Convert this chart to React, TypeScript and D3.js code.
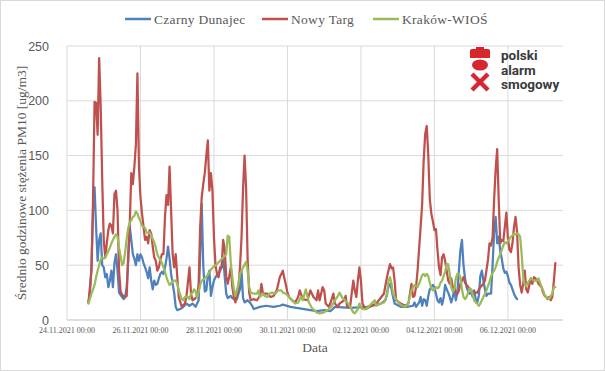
import React from 'react';
import * as d3 from 'd3';

// hours since 24.11.2021 00:00, PM10 [ug/m3]
const czarnyDunajec: [number, number][] = [
  [14,16],[15,24],[16,50],[17,100],[18,121],[19,85],[20,54],[21,73],[22,79],[23,50],[24,48],[25,39],[26,42],[27,30],[28,36],[29,45],[30,30],[31,52],[32,60],[33,45],[34,25],[36,21],[37,19],[38,21],[39,30],[40,54],[41,85],[42,73],[43,60],[44,56],[45,50],[46,60],[47,54],[48,60],[49,57],[50,52],[51,48],[52,44],[53,38],[54,48],[55,36],[56,28],[57,36],[58,32],[59,33],[60,38],[61,42],[62,44],[63,42],[64,48],[65,56],[66,67],[67,56],[68,42],[69,33],[70,25],[71,12],[72,9],[74,10],[76,12],[78,15],[80,13],[82,15],[84,12],[86,18],[87,60],[88,106],[89,50],[90,26],[91,27],[92,40],[93,45],[94,22],[95,30],[96,36],[97,39],[98,41],[99,42],[100,45],[101,48],[102,57],[103,40],[104,24],[105,20],[106,21],[107,22],[108,20],[109,19],[110,21],[111,19],[112,24],[113,28],[114,45],[115,20],[116,16],[118,18],[120,15],[122,10],[126,12],[130,13],[135,12],[139,13],[141,14],[146,12],[150,11],[155,10],[159,9],[163,8],[168,9],[172,8],[175,12],[185,11],[196,12],[205,15],[208,18],[209,24],[210,31],[211,33],[212,28],[213,21],[214,15],[218,12],[222,12],[226,13],[227,16],[228,12],[230,16],[231,21],[232,13],[233,19],[234,18],[235,13],[236,22],[237,28],[238,30],[239,32],[240,30],[241,24],[242,18],[243,16],[244,20],[245,14],[246,20],[247,32],[248,28],[249,25],[250,21],[251,16],[252,21],[253,28],[254,18],[255,25],[256,45],[257,64],[258,73],[259,50],[260,38],[261,30],[262,26],[263,24],[264,25],[265,21],[266,27],[267,19],[268,16],[269,22],[270,40],[271,45],[272,36],[273,28],[274,22],[275,24],[277,24],[278,50],[279,80],[280,94],[281,70],[282,76],[283,63],[284,56],[285,47],[286,43],[287,44],[288,40],[289,34],[290,32],[291,28],[292,24],[293,21],[294,19],
];

const nowyTarg: [number, number][] = [
  [14,16],[16,45],[17,109],[18,199],[19,198],[20,169],[21,239],[22,195],[23,128],[24,73],[25,57],[26,70],[27,82],[28,88],[29,86],[30,79],[31,115],[32,118],[33,100],[34,45],[35,26],[36,23],[38,21],[39,22],[40,60],[41,88],[42,134],[43,124],[44,140],[45,160],[46,225],[47,140],[48,112],[49,97],[50,85],[51,73],[52,76],[53,70],[54,82],[55,79],[56,67],[57,57],[58,54],[59,45],[60,48],[61,55],[62,60],[63,60],[64,94],[65,114],[66,105],[67,140],[68,100],[69,60],[70,48],[71,60],[72,40],[73,21],[75,12],[77,15],[78,21],[80,48],[81,24],[82,18],[85,21],[86,33],[87,85],[88,112],[89,124],[90,134],[91,150],[92,164],[93,118],[94,134],[95,118],[96,75],[97,50],[98,42],[99,39],[100,48],[101,48],[102,73],[103,65],[104,40],[105,33],[106,40],[107,48],[108,30],[109,21],[110,16],[111,22],[112,30],[113,48],[114,75],[115,120],[116,150],[117,120],[118,55],[119,25],[120,18],[122,19],[124,18],[126,22],[127,33],[128,24],[131,24],[133,21],[135,22],[137,27],[139,39],[140,42],[141,45],[142,38],[143,32],[144,25],[145,21],[147,18],[149,16],[151,21],[152,27],[154,19],[157,18],[159,27],[161,21],[163,18],[164,27],[165,18],[167,30],[168,27],[169,15],[171,12],[172,15],[174,24],[175,15],[177,12],[178,15],[181,18],[182,22],[183,12],[185,13],[187,36],[188,27],[189,21],[190,36],[191,48],[192,36],[193,15],[195,10],[198,12],[202,15],[207,24],[209,39],[211,51],[212,47],[213,48],[214,36],[215,18],[218,15],[221,13],[223,15],[225,33],[226,21],[227,22],[228,30],[229,45],[230,65],[231,85],[232,106],[233,146],[234,170],[235,177],[236,150],[237,110],[238,97],[239,90],[240,82],[241,83],[242,64],[243,48],[244,41],[245,57],[246,60],[247,54],[248,45],[249,36],[250,33],[251,38],[252,30],[253,30],[254,25],[255,24],[256,27],[257,33],[258,36],[259,39],[260,34],[261,32],[264,27],[266,25],[268,25],[270,30],[272,33],[273,36],[275,55],[276,70],[277,68],[278,75],[279,110],[280,137],[281,156],[282,110],[283,70],[284,73],[285,72],[286,85],[287,98],[288,75],[289,64],[290,62],[291,70],[292,85],[293,94],[294,80],[295,48],[296,32],[297,25],[298,33],[299,45],[300,28],[301,25],[302,32],[303,38],[304,33],[305,39],[306,38],[307,36],[308,33],[310,30],[311,25],[312,22],[313,21],[314,19],[315,21],[316,18],[317,21],[318,35],[319,52],
];

const krakowWios: [number, number][] = [
  [14,15],[16,24],[17,28],[18,32],[19,39],[20,45],[21,50],[22,55],[23,57],[24,56],[25,57],[26,60],[27,63],[28,66],[29,70],[30,73],[31,76],[32,78],[33,76],[34,66],[35,58],[36,50],[37,52],[38,62],[39,74],[40,84],[41,89],[42,91],[43,94],[44,95],[45,99],[46,97],[47,93],[48,90],[49,86],[50,85],[51,84],[52,80],[53,79],[54,80],[55,77],[56,74],[57,71],[58,66],[59,60],[60,57],[61,55],[62,52],[63,48],[64,44],[65,39],[66,35],[67,32],[68,33],[69,36],[70,36],[71,36],[72,33],[73,27],[74,23],[75,19],[76,18],[77,21],[79,21],[80,19],[81,24],[82,25],[83,28],[84,26],[85,20],[86,26],[87,32],[88,36],[90,38],[92,41],[94,46],[96,49],[98,51],[100,54],[102,57],[104,60],[105,77],[106,76],[107,52],[108,39],[109,28],[110,22],[111,27],[112,33],[113,42],[115,48],[117,53],[118,45],[119,30],[120,25],[122,24],[124,24],[125,27],[126,21],[128,24],[129,22],[131,21],[132,24],[134,25],[136,24],[138,27],[140,27],[141,25],[143,24],[145,21],[147,18],[149,15],[151,16],[153,21],[154,18],[156,28],[158,16],[160,11],[163,7],[165,6],[168,7],[171,10],[173,13],[175,18],[177,22],[178,25],[180,20],[183,16],[185,12],[187,7],[188,6],[190,10],[191,15],[193,10],[195,10],[197,12],[199,15],[201,18],[202,13],[205,15],[207,16],[209,22],[210,36],[211,39],[212,33],[213,24],[215,19],[217,15],[219,13],[221,12],[223,15],[224,22],[225,27],[227,32],[229,30],[230,33],[231,37],[232,41],[233,42],[234,40],[235,42],[236,40],[237,34],[238,29],[239,27],[240,28],[241,30],[242,29],[243,30],[244,34],[245,36],[246,40],[247,44],[248,51],[249,51],[250,42],[251,30],[252,26],[253,28],[254,38],[255,42],[256,42],[257,39],[258,28],[259,21],[260,19],[261,21],[262,25],[263,29],[264,28],[265,23],[266,18],[267,16],[268,15],[269,13],[270,15],[271,18],[272,21],[273,24],[274,27],[275,31],[276,35],[277,40],[278,43],[279,45],[280,48],[281,53],[282,57],[283,60],[284,64],[285,68],[286,71],[287,70],[288,72],[289,74],[290,76],[291,77],[292,79],[293,78],[294,79],[295,78],[296,76],[297,60],[298,40],[299,32],[300,31],[301,34],[302,36],[303,38],[305,36],[307,36],[308,38],[309,34],[310,30],[311,27],[312,23],[313,21],[315,19],[316,22],[317,24],[318,30],[319,30],
];

const seriesNames = ['Czarny Dunajec', 'Nowy Targ', 'Kraków-WIOŚ'];
const seriesColors = ['#4F81BD', '#C0504D', '#9BBB59'];
const yTicks = [0, 50, 100, 150, 200, 250];
const xTickDays = [0, 2, 4, 6, 8, 10, 12];
const logoLines = ['polski', 'alarm', 'smogowy'];
const startDate = new Date(Date.UTC(2021, 10, 24, 0, 0));
const endDate = new Date(Date.UTC(2021, 11, 7, 12, 0));

const W = 605, H = 371;
const margin = { top: 46, right: 42, bottom: 51, left: 67 };

const App = () => {
  const innerW = W - margin.left - margin.right;
  const innerH = H - margin.top - margin.bottom;

  const x = d3.scaleUtc().domain([startDate, endDate]).range([0, innerW]);
  const y = d3.scaleLinear().domain([0, 250]).range([innerH, 0]);

  const toDate = (h: number) => d3.utcHour.offset(startDate, h);
  const xTicks = xTickDays.map(d => d3.utcDay.offset(startDate, d));
  const fmt = d3.utcFormat('%d.%m.%Y %H:%M');

  const line = d3.line<[number, number]>()
    .x(d => x(toDate(d[0])))
    .y(d => y(d[1]));

  const allSeries = [czarnyDunajec, nowyTarg, krakowWios];
  const serif = '"Liberation Serif", "DejaVu Serif", serif';
  const legendX = [125, 262, 373];
  const logoRed = '#D8262E';

  return (
    <svg width={W} height={H} style={{ position: 'absolute', left: 0, top: 0, background: '#fff' }}>
      <rect x={0.5} y={0.5} width={W - 1} height={H - 1} fill="#fff" stroke="#d9d9d9" />

      {/* legend */}
      {seriesNames.map((name, i) => (
        <g key={name} transform={`translate(${legendX[i]},19)`}>
          <line x1={0} x2={26} y1={0} y2={0} stroke={seriesColors[i]} strokeWidth={2.5} />
          <text x={29} y={4.5} fontFamily={serif} fontSize={13.5} fill="#595959" letterSpacing={0.3}>{name}</text>
        </g>
      ))}

      <g transform={`translate(${margin.left},${margin.top})`}>
        {yTicks.map(t => (
          <line key={t} x1={0} x2={innerW} y1={y(t)} y2={y(t)} stroke={t === 0 ? '#bfbfbf' : '#d9d9d9'} strokeWidth={1} />
        ))}
        {xTicks.map(t => (
          <line key={t.getTime()} x1={x(t)} x2={x(t)} y1={0} y2={innerH} stroke="#d9d9d9" strokeWidth={1} />
        ))}

        {yTicks.map(t => (
          <text key={t} x={-18} y={y(t) + 4.5} textAnchor="end" fontFamily='"Liberation Sans", Arial, sans-serif' fontSize={12.5} fill="#595959">{t}</text>
        ))}
        {xTicks.map(t => (
          <text key={t.getTime()} x={x(t)} y={innerH + 13} textAnchor="middle" fontFamily={serif} fontSize={8} fill="#595959">{fmt(t)}</text>
        ))}

        {allSeries.map((s, i) => (
          <path key={i} d={line(s) || ''} fill="none" stroke={seriesColors[i]} strokeWidth={2.25} strokeLinejoin="round" strokeLinecap="round" />
        ))}
      </g>

      {/* axis titles */}
      <text x={margin.left + innerW / 2} y={352} textAnchor="middle" fontFamily={serif} fontSize={13.5} fill="#595959">Data</text>
      <text transform={`translate(26,${margin.top + innerH / 2}) rotate(-90)`} textAnchor="middle" fontFamily={serif} fontSize={13.5} fill="#595959">Średnio godzinowe stężenia PM10 [ug/m3]</text>

      {/* logo */}
      <g>
        <path d="M476,47 h8 v2 h4 q2,0 2,2 v7 h-20 v-7 q0,-2 2,-2 h4 z" fill={logoRed} />
        <ellipse cx={480} cy={65} rx={8} ry={5.5} fill={logoRed} />
        <line x1={472} y1={74} x2={488} y2={90} stroke={logoRed} strokeWidth={4.5} />
        <line x1={488} y1={74} x2={472} y2={90} stroke={logoRed} strokeWidth={4.5} />
        {logoLines.map((t, i) => (
          <text key={t} x={501} y={60 + i * 14.5} fontFamily='Roboto, "Liberation Sans", sans-serif' fontWeight={700} fontSize={13.5} fill="#3a3a3a">{t}</text>
        ))}
      </g>
    </svg>
  );
};

export default App;
